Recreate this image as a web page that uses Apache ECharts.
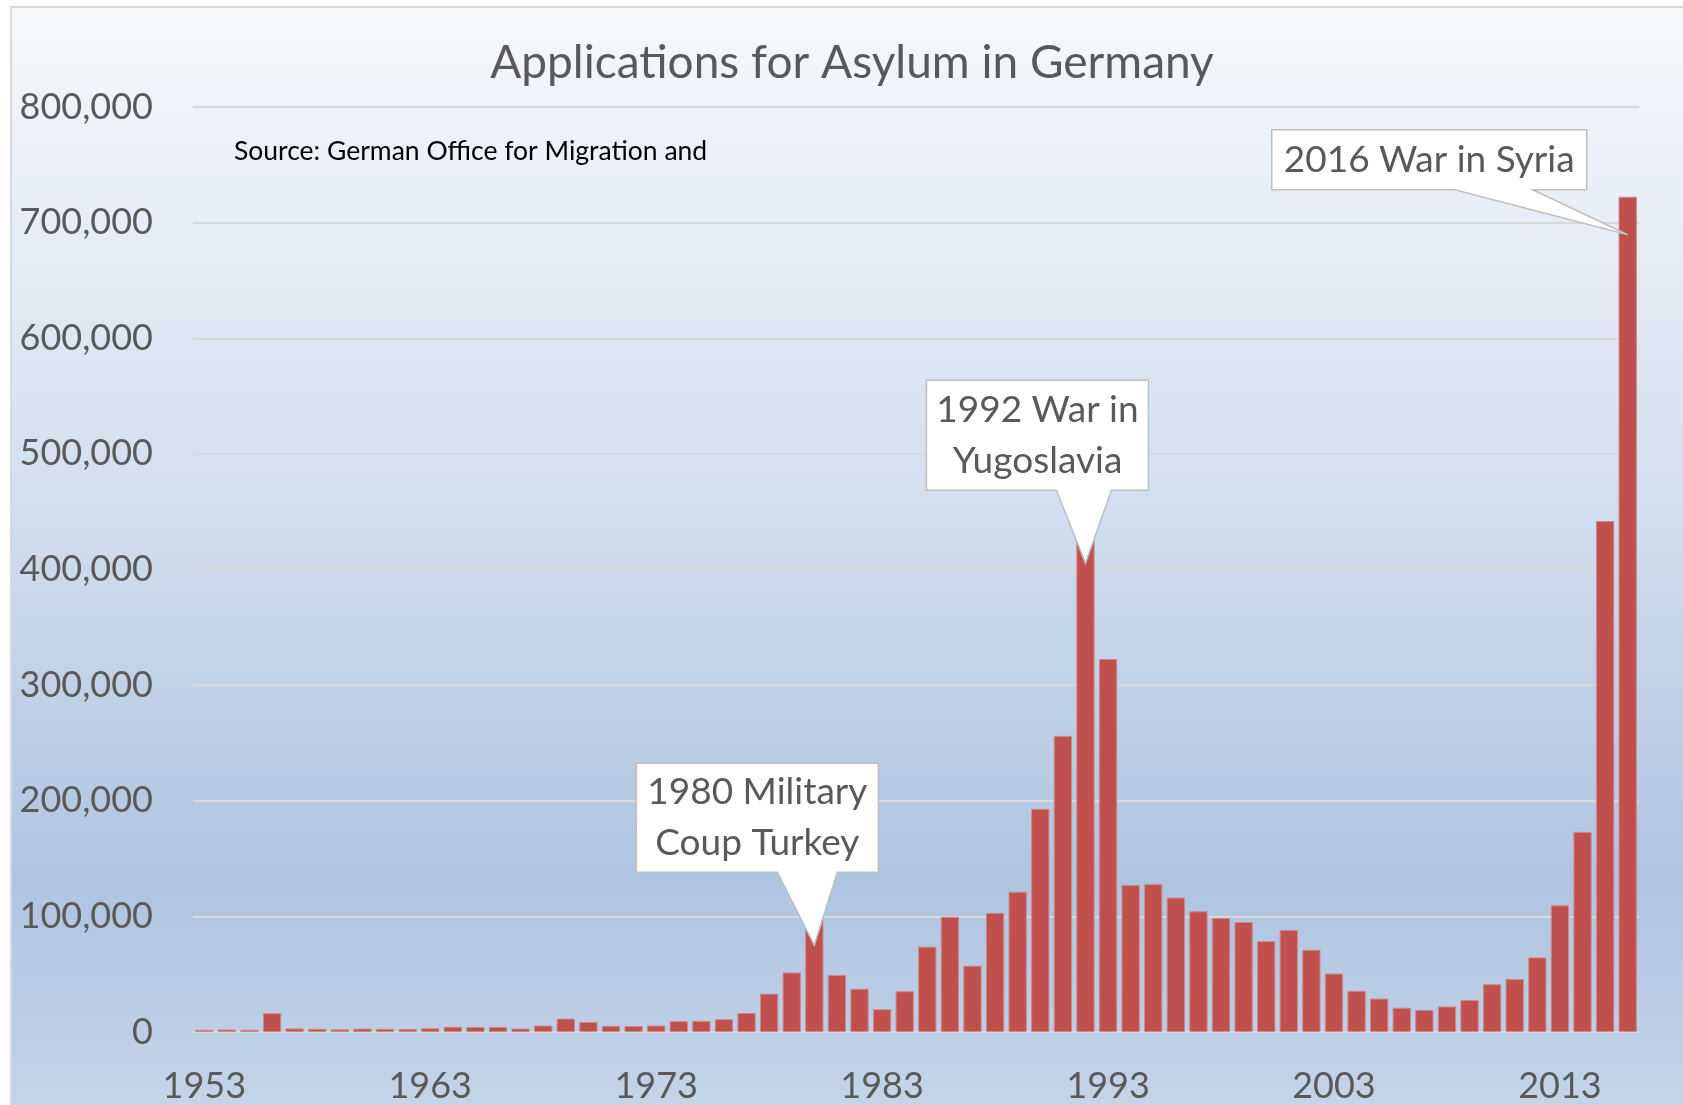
<!DOCTYPE html>
<html>
<head>
<meta charset="utf-8">
<script src="https://cdn.jsdelivr.net/npm/echarts@6/dist/echarts.min.js"></script>
<style>
html,body{margin:0;padding:0;background:#fff;}
#chart{width:1683px;height:1105px;}
</style>
</head>
<body>
<div id="chart"></div>
<script>
const categories = ['1953','1954','1955','1956','1957','1958','1959','1960','1961','1962',
  '1963','1964','1965','1966','1967','1968','1969','1970','1971','1972',
  '1973','1974','1975','1976','1977','1978','1979','1980','1981','1982',
  '1983','1984','1985','1986','1987','1988','1989','1990','1991','1992',
  '1993','1994','1995','1996','1997','1998','1999','2000','2001','2002',
  '2003','2004','2005','2006','2007','2008','2009','2010','2011','2012',
  '2013','2014','2015','2016'];
const applications = [1906, 2174, 1926, 16284, 3112, 2785, 2267, 2980, 2722, 2550,
  3238, 4542, 4337, 4426, 2992, 5608, 11664, 8645, 5388, 5289,
  5595, 9424, 9627, 11123, 16410, 33136, 51493, 107818, 49391, 37423,
  19737, 35278, 73832, 99650, 57379, 103076, 121318, 193063, 256112, 438191,
  322599, 127210, 127937, 116367, 104353, 98644, 95113, 78564, 88287, 71127,
  50563, 35607, 28914, 21029, 19164, 22085, 27649, 41332, 45741, 64539,
  109580, 173072, 441899, 722370];
const calloutYears = ['1980', '1992', '2016'];
const calloutTexts = ['1980 Military\nCoup Turkey', '1992 War in\nYugoslavia', '2016 War in Syria'];
const titleText = 'Applications for Asylum in Germany';
const sourceText = 'Source: German Office for Migration and';

const FONT = 'Lato, "Open Sans", sans-serif';
const chart = echarts.init(document.getElementById('chart'));

const baseGraphics = [
  {
    id: 'bg', type: 'rect', z: -100, silent: true,
    shape: { x: 11, y: 7, width: 1700, height: 1120 },
    style: {
      fill: new echarts.graphic.LinearGradient(0, 0, 0, 1, [
        { offset: 0, color: '#f6f9fc' },
        { offset: 0.45, color: '#d1deee' },
        { offset: 0.78, color: '#aec4e0' },
        { offset: 1, color: '#c6d6ea' }
      ]),
      stroke: '#d9d9d9', lineWidth: 2
    }
  },
  {
    id: 'source', type: 'text', z: 50, left: 234, top: 138,
    style: { text: sourceText, fill: '#000', font: '26.5px ' + FONT }
  }
];

chart.setOption({
  backgroundColor: '#ffffff',
  animation: false,
  title: {
    text: titleText,
    left: 852, top: 40, textAlign: 'center', padding: 0,
    textStyle: { fontFamily: FONT, fontSize: 46, fontWeight: 'normal', color: '#595959' }
  },
  grid: { left: 193, right: 44, top: 107, bottom: 73, containLabel: false },
  xAxis: {
    type: 'category',
    data: categories,
    axisTick: { show: false },
    axisLine: { show: true, lineStyle: { color: '#d9d9d9', width: 2 } },
    axisLabel: { interval: 9, margin: 36, fontFamily: FONT, fontSize: 36, color: '#595959' }
  },
  yAxis: {
    type: 'value',
    min: 0, max: 800000, interval: 100000,
    axisLine: { show: false },
    axisTick: { show: false },
    splitLine: { lineStyle: { color: '#d9d9d9', width: 2 } },
    axisLabel: {
      margin: 40, fontFamily: FONT, fontSize: 36, color: '#595959',
      formatter: v => v.toLocaleString('en-US')
    }
  },
  series: [{
    type: 'bar',
    data: applications,
    barCategoryGap: '19%',
    itemStyle: { color: '#c0504d', borderColor: '#cf8a88', borderWidth: 1 }
  }],
  graphic: { elements: baseGraphics }
});

// callout geometry relative to the pointer tip (layout only)
const calloutBoxes = [
  { l: -178, r: 64, t: -182, b: -73, pl: -37, pr: 23 },
  { l: -159, r: 63, t: -183, b: -73, pl: -29, pr: 26 },
  { l: -356, r: -41, t: -105, b: -45, pl: -173, pr: -95 }
];
const callouts = calloutYears.map((yr, i) => {
  const idx = categories.indexOf(yr);
  const p = chart.convertToPixel({ seriesIndex: 0 }, [idx, applications[idx]]);
  const tx = p[0], ty = p[1] + 38;
  const g = calloutBoxes[i];
  return {
    id: 'callout' + i, type: 'group', x: tx, y: ty, z: 100,
    children: [
      {
        type: 'polygon', z: 100,
        shape: { points: [[g.l, g.t], [g.r, g.t], [g.r, g.b], [g.pr, g.b], [0, 0], [g.pl, g.b], [g.l, g.b]] },
        style: { fill: '#ffffff', stroke: '#bfbfbf', lineWidth: 1.5 }
      },
      {
        type: 'text', z: 101,
        x: (g.l + g.r) / 2, y: (g.t + g.b) / 2,
        style: {
          text: calloutTexts[i], fill: '#595959', font: '37px ' + FONT,
          align: 'center', verticalAlign: 'middle', lineHeight: 51
        }
      }
    ]
  };
});
chart.setOption({ graphic: { elements: baseGraphics.concat(callouts) } });
</script>
</body>
</html>
